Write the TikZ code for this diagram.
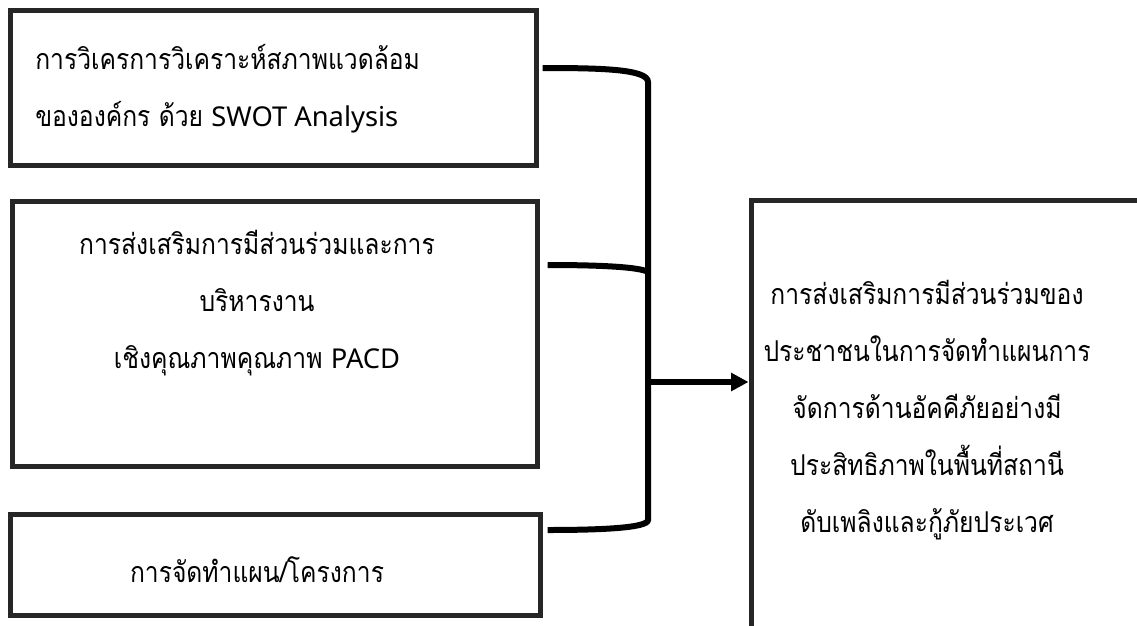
\documentclass[tikz,border=0pt]{standalone}
\usepackage{fontspec}
\newfontfamily\thaifont[Script=Thai,FakeStretch=0.86]{Loma}
\newfontfamily\latinfont{Noto Sans}
\usetikzlibrary{arrows.meta,calc}
\definecolor{boxline}{HTML}{262626}
\newcommand{\lat}[1]{{\latinfont\fontsize{20.5}{42.75}\selectfont #1}}
\begin{document}
\begin{tikzpicture}[x=0.75pt,y=-0.75pt,
  boxnode/.style={draw=boxline, line width=3.75pt, rectangle, inner sep=0pt},
  txt/.style={font=\thaifont\fontsize{21.5}{42.75}\selectfont, inner sep=0pt},
  conn/.style={draw=black, line width=4.5pt}]
\useasboundingbox (0,0) rectangle (1137,625);
\clip (0,0) rectangle (1137,625);
\fill[white] (0,0) rectangle (1137,625);
% boxes
\node[boxnode, minimum width=394.5pt, minimum height=116.25pt] (b1) at (273,87.5) {};
\node[boxnode, minimum width=393.75pt, minimum height=198.75pt] (b2) at (274.5,333.5) {};
\node[boxnode, minimum width=397.5pt, minimum height=75.75pt] (b3) at (275,564.5) {};
\node[boxnode, minimum width=321.75pt, minimum height=360pt] (rb) at (965.5,440) {};
% texts
\node[txt, anchor=west, align=left] (t1) at (35,88.5) {การวิเครการวิเคราะห์สภาพแวดล้อม\\ขององค์กร ด้วย \lat{SWOT Analysis}};
\node[txt, align=center] (t2) at (257,303.5) {การส่งเสริมการมีส่วนร่วมและการ\\บริหารงาน\\เชิงคุณภาพคุณภาพ \lat{PACD}};
\node[txt, align=center] (t3) at (257,570) {การจัดทำแผน/โครงการ};
\node[txt, align=center] (t4) at (927,410) {การส่งเสริมการมีส่วนร่วมของ\\ประชาชนในการจัดทำแผนการ\\จัดการด้านอัคคีภัยอย่างมี\\ประสิทธิภาพในพื้นที่สถานี\\ดับเพลิงและกู้ภัยประเวศ};
% connector points
\coordinate (s1) at ($(b1.east)+(4,-19.5)$);
\coordinate (s2) at ($(b2.east)+(8,-68.5)$);
\coordinate (s3) at ($(b3.east)+(5,-34.5)$);
\coordinate (vt) at (648,82);
\coordinate (vj) at (648,272);
\coordinate (vm) at (648,382);
\coordinate (vb) at (648,520);
\coordinate (ta) at ($(rb.west)+(0,-58)$);
% connectors
\draw[conn] (s1) .. controls (600,68) and (648,69) .. (vt) -- (vb) .. controls (648,528) and (600,530) .. (s3);
\draw[conn] (s2) .. controls (600,265) and (640,267) .. (vj);
\draw[conn, -{Triangle[length=13pt,width=13pt]}] (vm) -- (ta);
\end{tikzpicture}
\end{document}
